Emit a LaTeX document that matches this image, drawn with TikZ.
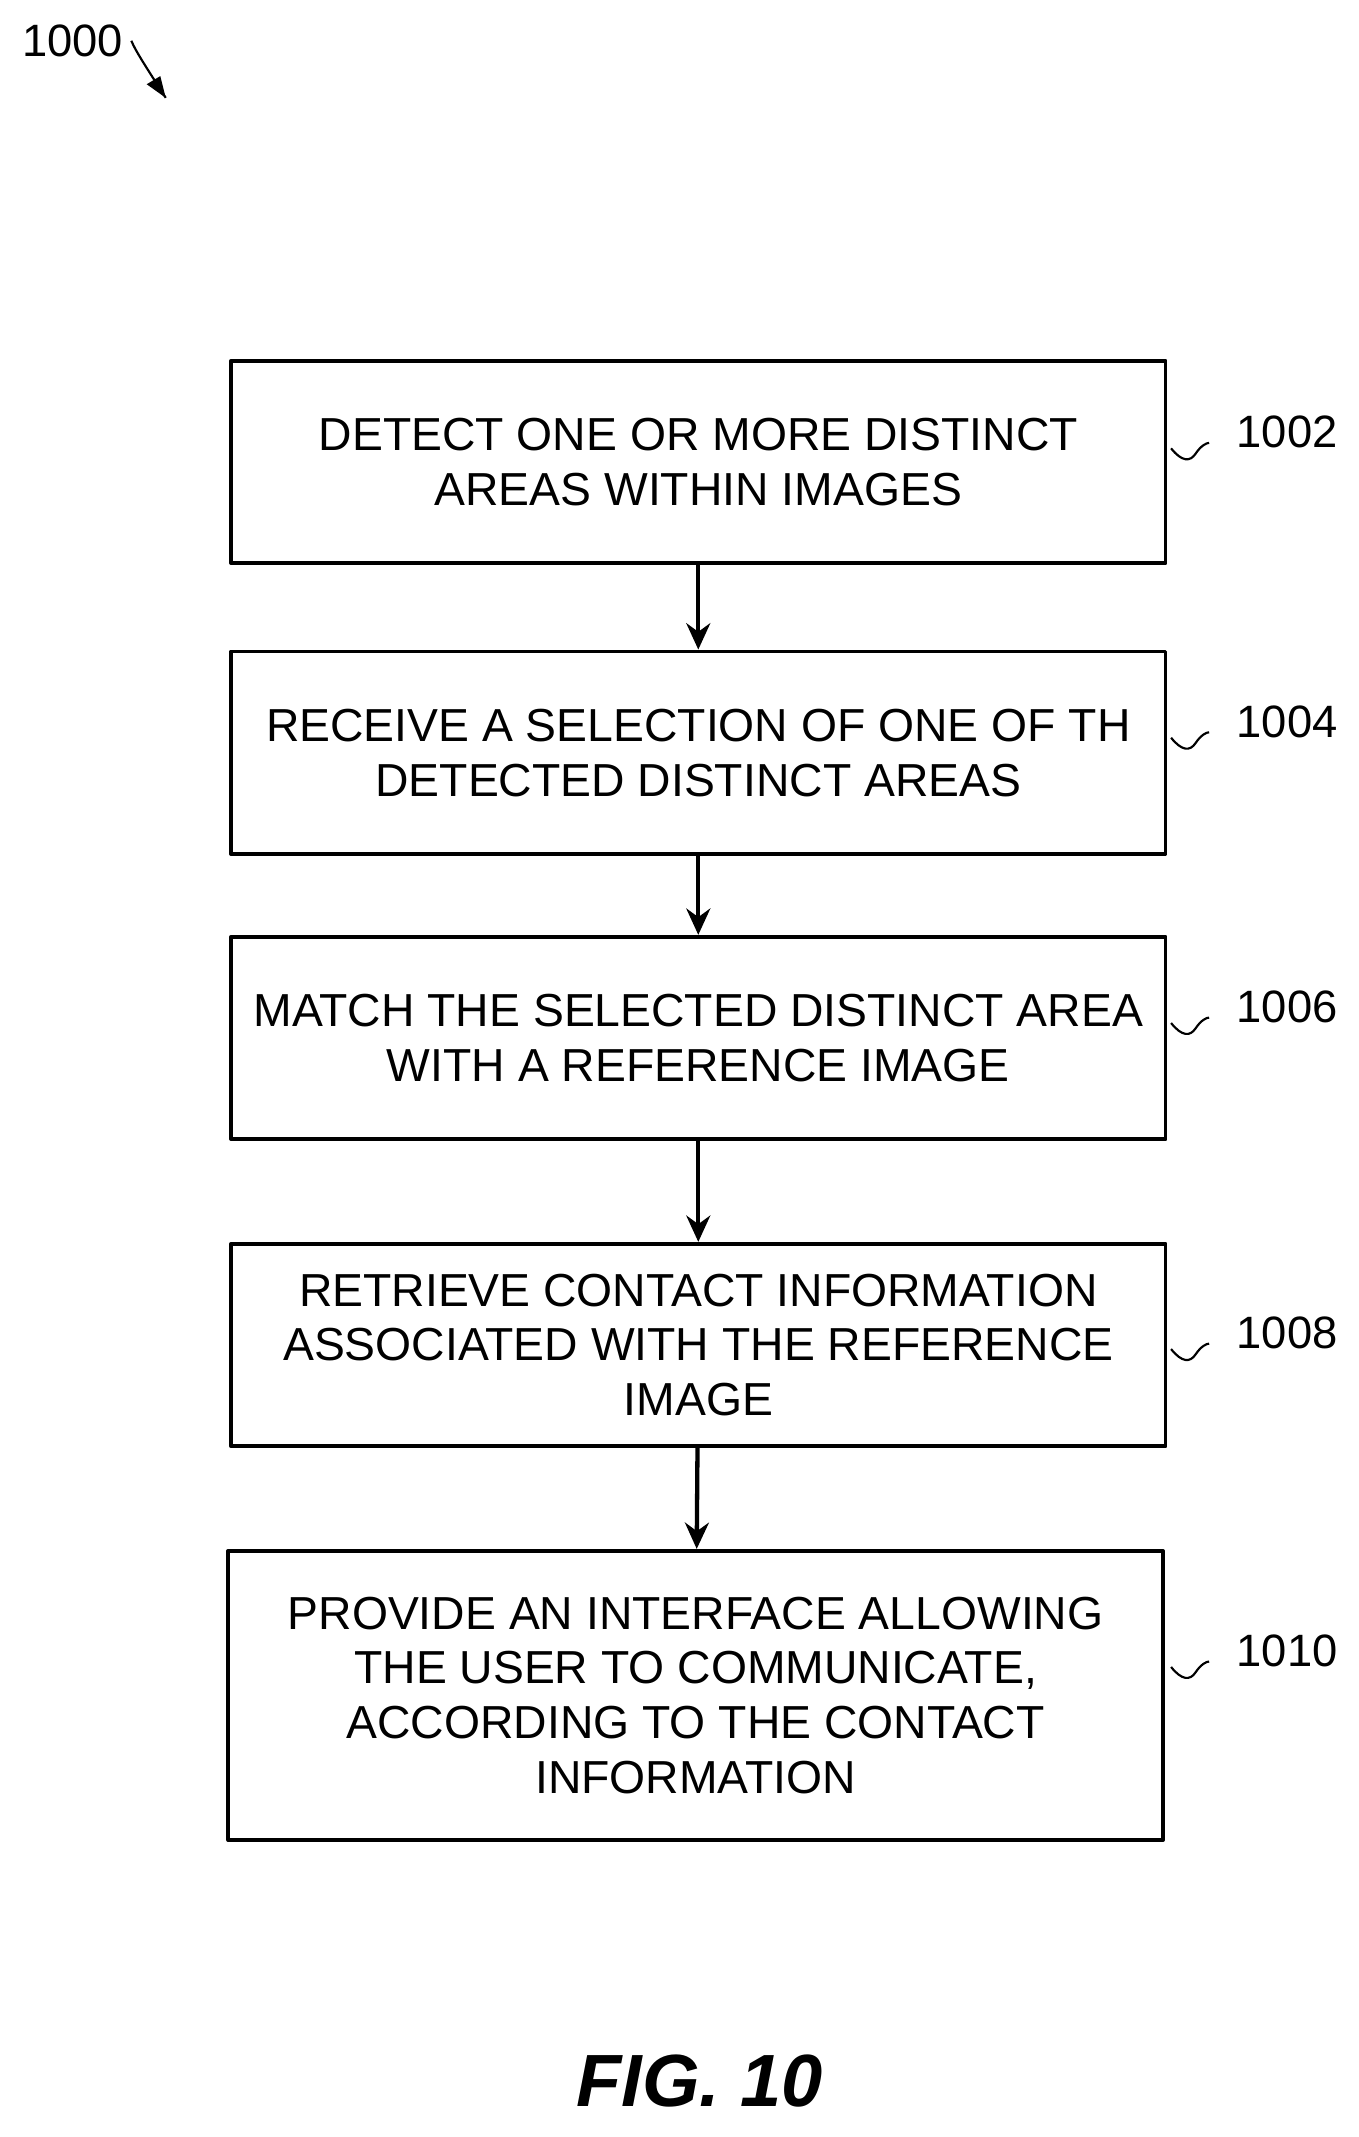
\documentclass[tikz,border=0pt]{standalone}
\usepackage{fontspec}
\setmainfont{Liberation Sans}
\usetikzlibrary{positioning,arrows.meta}
\begin{document}
\begin{tikzpicture}[x=0.02cm, y=-0.02cm, line join=round, >=stealth,
	box/.style={draw, line width=1.6pt, minimum width=13.76cm, inner sep=0pt, align=center,
		font=\fontsize{19.4}{23}\selectfont},
	num/.style={anchor=west, font=\fontsize{19}{22}\selectfont},
	flow/.style={->, line width=1.8pt, >={Stealth[length=11pt,width=10pt]}},
	squig/.style={line width=0.9pt}]
	\useasboundingbox (0,0) rectangle (1000,1573);
	% steps
	\node[box, minimum height=2.98cm] (s1) at (514,340) {DETECT ONE OR MORE DISTINCT\\AREAS WITHIN IMAGES};
	\node[box, minimum height=2.98cm] (s2) at (514,554) {RECEIVE A SELECTION OF ONE OF TH\\DETECTED DISTINCT AREAS};
	\node[box, minimum height=2.98cm] (s3) at (514,764) {MATCH THE SELECTED DISTINCT AREA\\WITH A REFERENCE IMAGE};
	\node[box, minimum height=2.98cm] (s4) at (514,990) {RETRIEVE CONTACT INFORMATION\\ASSOCIATED WITH THE REFERENCE\\IMAGE};
	\node[box, minimum height=4.26cm] (s5) at (512,1248) {PROVIDE AN INTERFACE ALLOWING\\THE USER TO COMMUNICATE,\\ACCORDING TO THE CONTACT\\INFORMATION};
	\foreach \a/\b in {s1/s2,s2/s3,s3/s4,s4/s5}{
	\draw[flow] (\a) -- (\b);
}
	% reference numbers
	\foreach \s/\y/\n in {s1/340/1002,s2/553/1004,s3/763/1006,s4/1003/1008,s5/1237/1010}{
	\node[num] (n\n) at (904,\y-22) {\n};
	\draw[squig] (862,\y-10) .. controls (870,\y) and (876,\y) .. (880,\y-6) .. controls (884,\y-12) and (888,\y-14) .. (890,\y-14);
}
	% figure number
	\node[num] (n1000) at (10,30) {1000};
	\coordinate (tip) at (122,72);
	\draw[squig] (n1000.east) .. controls (100,38) and (108,50) .. (tip);
	\fill (tip) -- (108,62) -- (118,56) -- cycle;
	\node[font=\fontsize{31}{36}\selectfont\bfseries\itshape] (fig) at (515,1532) {FIG. 10};
\end{tikzpicture}
\end{document}
